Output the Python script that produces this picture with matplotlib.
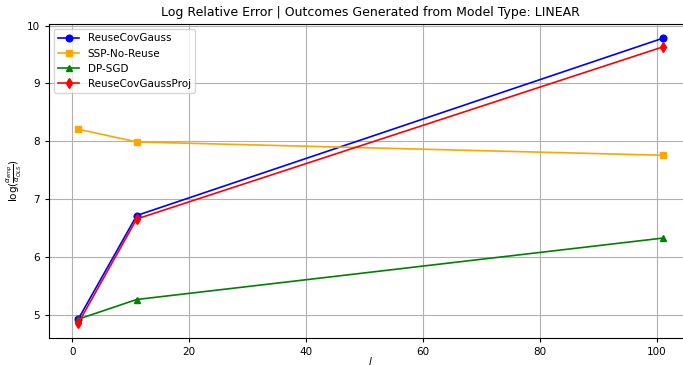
import matplotlib
matplotlib.use("Agg")
import matplotlib.pyplot as plt

x_vals = [1, 11, 101]
reuse_cov_gauss = [4.93, 6.72, 9.78]
ssp_no_reuse = [8.21, 7.99, 7.76]
dp_sgd = [4.93, 5.27, 6.33]
reuse_cov_gauss_proj = [4.86, 6.66, 9.63]

fig = plt.figure(figsize=(6.83, 3.66), dpi=100)
W, H = 683, 366
left, right, top, bottom = 49, 692, 24, 337.5
ax = fig.add_axes([left / W, 1 - bottom / H, (right - left) / W, (bottom - top) / H])
lw, ms = 1.2, 4.8
ax.plot(x_vals, reuse_cov_gauss, color="blue", marker="o", lw=lw, markersize=ms, label="ReuseCovGauss")
ax.plot(x_vals, ssp_no_reuse, color="orange", marker="s", lw=lw, markersize=ms, label="SSP-No-Reuse")
ax.plot(x_vals, dp_sgd, color="green", marker="^", lw=lw, markersize=ms, label="DP-SGD")
ax.plot(x_vals, reuse_cov_gauss_proj, color="red", marker="d", lw=lw, markersize=ms, label="ReuseCovGaussProj")
ax.set_title("Log Relative Error | Outcomes Generated from Model Type: LINEAR", fontsize=9, pad=6)
ax.set_xlabel("$l$", fontsize=7.5, labelpad=-1)
ax.set_ylabel(r"$\log(\frac{\alpha_{emp}}{\alpha_{OLS}})$", fontsize=7.5, labelpad=2)
ax.tick_params(labelsize=7.5, length=3)
ax.grid(True)
ax.legend(loc="upper left", fontsize=7.5)
fig.savefig("out.png", dpi=100)
